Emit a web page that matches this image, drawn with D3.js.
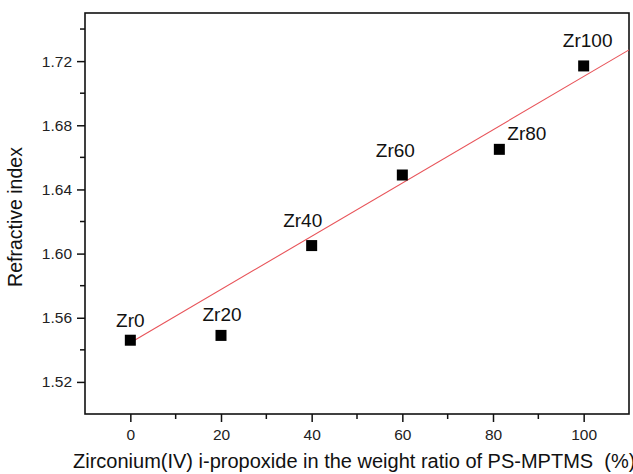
<!DOCTYPE html>
<html><head><meta charset="utf-8">
<script src="https://cdn.jsdelivr.net/npm/d3@7"></script>
<style>body{margin:0;background:#fff;}svg{display:block;}</style>
</head><body>
<svg id="chart" width="633" height="474"></svg>
<script>
const sampleNames = ["Zr0","Zr20","Zr40","Zr60","Zr80","Zr100"];
const zrRatio = [0, 20, 40, 60, 81.4, 100];
const refractiveIndex = [1.546, 1.549, 1.605, 1.649, 1.665, 1.717];
const fitX = [0, 110];
const fitY = [1.5444, 1.7270];
const xTicks = [0, 20, 40, 60, 80, 100];
const yTicks = [1.52, 1.56, 1.60, 1.64, 1.68, 1.72];
// label placement (pixel offsets from the point), layout only
const labelDx = [0, 1, -9, -7, 8, 4];
const labelDy = [-13, -14, -19, -18, -9, -19];
const labelAnchor = ["middle","middle","middle","middle","start","middle"];

const svg = d3.select("#chart");
const m = {l:85, t:13, r:629, b:414};
const x = d3.scaleLinear().domain([-10,110]).range([m.l, m.r]);
const y = d3.scaleLinear().domain([1.50,1.75]).range([m.b, m.t]);
const font = "Liberation Sans, Arial, sans-serif";

// minor ticks
const xMinor = d3.range(-10, 111, 10).filter(v => !xTicks.includes(v) && v > -10 && v < 110);
const yMinor = d3.range(1.50, 1.7501, 0.02).map(v => +v.toFixed(2)).filter(v => !yTicks.includes(v) && v > 1.50 && v < 1.75);

const xAxis = svg.append("g").attr("transform", `translate(0,${m.b})`)
  .call(d3.axisBottom(x).tickValues(xTicks).tickSize(8).tickPadding(7).tickFormat(d3.format("d")));
const yAxis = svg.append("g").attr("transform", `translate(${m.l},0)`)
  .call(d3.axisLeft(y).tickValues(yTicks).tickSize(8).tickPadding(5).tickFormat(d3.format(".2f")));
[xAxis, yAxis].forEach(g => {
  g.select(".domain").remove();
  g.selectAll("line").attr("stroke","#111").attr("stroke-width",1.5);
  g.selectAll("text").attr("font-family",font).attr("font-size",15.5).attr("fill","#222");
});
svg.append("g").selectAll("line").data(xMinor).join("line")
  .attr("x1", d => x(d)).attr("x2", d => x(d)).attr("y1", m.b).attr("y2", m.b+5)
  .attr("stroke","#111").attr("stroke-width",1.5);
svg.append("g").selectAll("line").data(yMinor).join("line")
  .attr("y1", d => y(d)).attr("y2", d => y(d)).attr("x1", m.l).attr("x2", m.l-5)
  .attr("stroke","#111").attr("stroke-width",1.5);

// frame
svg.append("rect").attr("x", m.l).attr("y", m.t).attr("width", m.r-m.l).attr("height", m.b-m.t)
  .attr("fill","none").attr("stroke","#111").attr("stroke-width",1.6);

// fit line
const fit = fitX.map((v,i) => [v, fitY[i]]);
svg.append("path").datum(fit)
  .attr("d", d3.line().x(d => x(d[0])).y(d => y(d[1])))
  .attr("stroke","#e8545a").attr("stroke-width",1.1).attr("fill","none");

// points
const pts = zrRatio.map((v,i) => ({x:v, y:refractiveIndex[i], name:sampleNames[i], i}));
const s = 11;
svg.append("g").selectAll("rect").data(pts).join("rect")
  .attr("x", d => x(d.x)-s/2).attr("y", d => y(d.y)-s/2).attr("width", s).attr("height", s)
  .attr("fill","#000");
svg.append("g").selectAll("text").data(pts).join("text")
  .attr("x", d => x(d.x)+labelDx[d.i]).attr("y", d => y(d.y)+labelDy[d.i])
  .attr("text-anchor", d => labelAnchor[d.i])
  .attr("font-family",font).attr("font-size",19).attr("fill","#111")
  .text(d => d.name);

// axis titles
svg.append("text").attr("x", 73).attr("y", 468)
  .attr("font-family",font).attr("font-size",20).attr("fill","#111")
  .style("white-space","pre")
  .text("Zirconium(IV) i-propoxide in the weight ratio of PS-MPTMS  (%)");
svg.append("text").attr("transform","translate(22,217) rotate(-90)")
  .attr("text-anchor","middle")
  .attr("font-family",font).attr("font-size",19.5).attr("fill","#111")
  .text("Refractive index");
</script>
</body></html>
